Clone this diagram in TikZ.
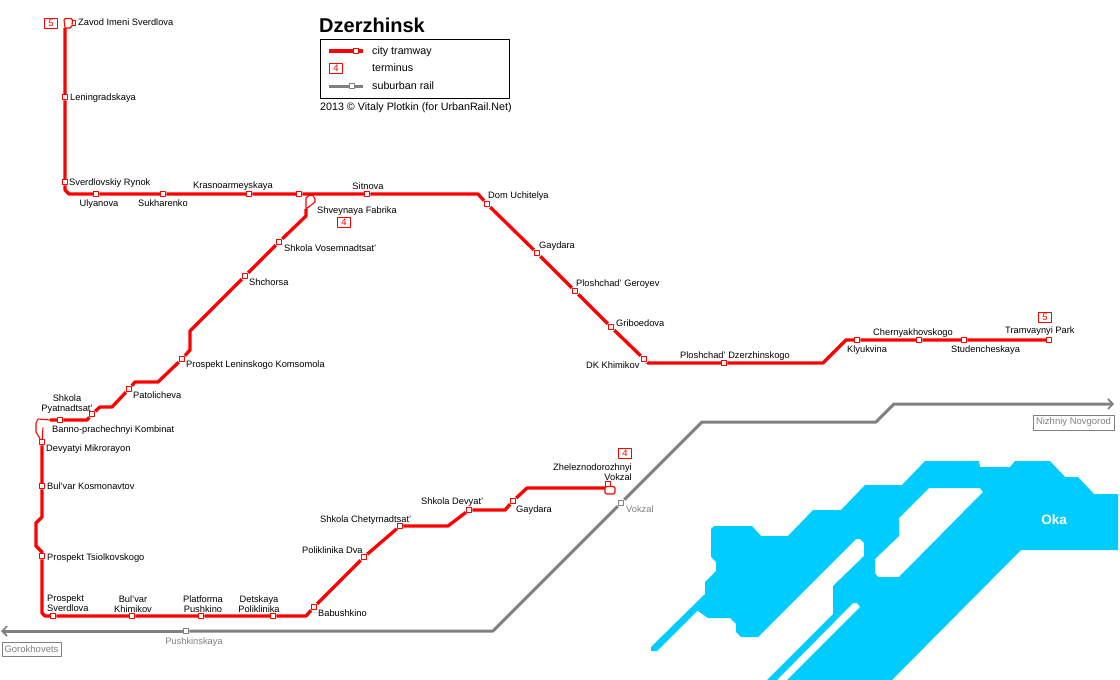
\documentclass[tikz,border=0pt]{standalone}
\usepackage{fontspec}
\setmainfont{Liberation Sans}
\usetikzlibrary{arrows.meta}
\definecolor{tramred}{HTML}{FF0000}
\definecolor{railgray}{HTML}{808080}
\definecolor{okablue}{HTML}{00CCFF}
\tikzset{
    stop/.style={draw=tramred, fill=white, line width=1pt, inner sep=0pt, minimum size=5.5pt},
    railstop/.style={draw=railgray, fill=white, line width=1pt, inner sep=0pt, minimum size=5.5pt},
    lab/.style={font=\fontsize{9.3}{10.3}\selectfont, inner sep=0pt, text height=8pt, text depth=1pt},
    lablr/.style={lab, anchor=west},
    labc/.style={font=\fontsize{9.3}{10.3}\selectfont, inner sep=0pt, align=center},
    legtext/.style={lablr, font=\fontsize{10.7}{11.7}\selectfont},
    railtext/.style={lab, text=railgray},
    terminus/.style={draw=tramred, text=tramred, line width=1pt, inner sep=0pt, minimum width=13pt, minimum height=10pt, font=\fontsize{9.5}{10}\selectfont},
    dirbox/.style={draw=railgray, text=railgray, line width=0.9pt, inner sep=0pt, font=\fontsize{9.5}{10.5}\selectfont},
    tram/.style={draw=tramred, line width=3.3pt},
    loopline/.style={draw=tramred, line width=1.1pt, fill=white},
    rail/.style={draw=railgray, line width=3pt},
    railend/.style={-{Straight Barb[length=5pt,width=10pt,line width=1.6pt]}}
}

\begin{document}
\begin{tikzpicture}[x=1pt, y=-1pt, >=stealth, line join=round]
    \useasboundingbox (0,0) rectangle (1120,680);

    % river Oka
    \fill[okablue, even odd rule] (651,647) -- (705,594) -- (705,582) -- (716,571) -- (716,562) -- (711,557) -- (711,529) -- (714,526) -- (752,526) -- (761,536) -- (788,536) -- (813,510) -- (841,510) -- (865,485) -- (902,485) -- (925,461) -- (979,461) -- (980,467) -- (1010,467) -- (1015,461) -- (1050,461) -- (1065,477) -- (1078,477) -- (1094,494) -- (1118,494) -- (1118,550) -- (1021,550) -- (892,680) -- (787,680) -- (860,607) -- (857,603) -- (853,603) -- (777,680) -- (767,680) -- (833,614) -- (833,586) -- (864,556) -- (864,543) -- (860,539) -- (856,539) -- (758,637) -- (741,637) -- (736,632) -- (736,624) -- (730,618) -- (708,618) -- (698,611) -- (697,611) -- (657,651) -- (651,651) -- cycle
        (929,488) -- (980,488) -- (983,492) -- (899,577) -- (878,577) -- (875,573) -- (875,559) -- (899,536) -- (899,518) -- cycle;
    \node[font=\bfseries\fontsize{13.5}{14}\selectfont, text=white, inner sep=0pt] (oka) at (1054,520) {Oka};

    % suburban rail
    \node[railstop] (pushkinskaya) at (186,631) {};
    \node[railstop] (vokzal) at (621,503) {};
    \coordinate (GorEnd) at (1,631);
    \coordinate (RailA) at (493,631);
    \coordinate (RailB) at (702,422);
    \coordinate (RailC) at (876,422);
    \coordinate (RailD) at (894,404);
    \coordinate (NizEnd) at (1114,404);
    \draw[rail, railend] (pushkinskaya) -- (GorEnd);
    \draw[rail] (pushkinskaya) -- (RailA) -- (vokzal);
    \draw[rail, railend] (vokzal) -- (RailB) -- (RailC) -- (RailD) -- (NizEnd);
    \node[railtext] (pushkinskayaT) at (194,641) {Pushkinskaya};
    \node[railtext, anchor=west] (vokzalT) at (626,509) {Vokzal};
    \node[dirbox, minimum width=59pt, minimum height=14pt] (gorokhovets) at (31.5,649) {Gorokhovets};
    \node[dirbox, minimum width=81pt, minimum height=15pt] (nizhniy) at (1073.5,422.5) {Nizhniy Novgorod};

    % stations of line 5
    \node[stop] (zavod) at (73,23) {};
    \node[stop] (leningradskaya) at (65,97) {};
    \node[stop] (rynok) at (65,182) {};
    \node[stop] (ulyanova) at (96,194) {};
    \node[stop] (sukharenko) at (163,194) {};
    \node[stop] (krasnoarm) at (249,194) {};
    \node[stop] (shveynayaTop) at (299,194) {};
    \node[stop] (sitnova) at (367,194) {};
    \node[stop] (uchitelya) at (487,204) {};
    \node[stop] (gaydaraN) at (537,253) {};
    \node[stop] (geroyev) at (575,291) {};
    \node[stop] (griboedova) at (611,327) {};
    \node[stop] (khimikov) at (644,359) {};
    \node[stop] (dzerzhinskogo) at (724,363) {};
    \node[stop] (klyukvina) at (857,340) {};
    \node[stop] (chernyakh) at (919,340) {};
    \node[stop] (studench) at (964,340) {};
    \node[stop] (tramPark) at (1049,340) {};

    % line 5
    \coordinate (ZavodLoop) at (65,28);
    \coordinate (CornerA) at (65,190);
    \coordinate (CornerB) at (69,194);
    \coordinate (CornerC) at (478,194);
    \coordinate (CornerD) at (648,363);
    \coordinate (CornerE) at (823,363);
    \coordinate (CornerF) at (846,340);
    \draw[loopline] (ZavodLoop) -- (64,20) -- (65.5,18.5) -- (71,18.5) -- (72.5,20) -- (72,26) -- (70,28) -- cycle;
    \draw[tram] (ZavodLoop) -- (leningradskaya) -- (rynok) -- (CornerA) -- (CornerB) -- (ulyanova) -- (sukharenko) -- (krasnoarm) -- (shveynayaTop) -- (sitnova) -- (CornerC) -- (uchitelya) -- (gaydaraN) -- (geroyev) -- (griboedova) -- (khimikov) -- (CornerD) -- (dzerzhinskogo) -- (CornerE) -- (CornerF) -- (klyukvina) -- (chernyakh) -- (studench) -- (tramPark);

    % stations of line 4
    \node[stop] (vosemnadtsat) at (279,242) {};
    \node[stop] (shchorsa) at (245,276) {};
    \node[stop] (komsomola) at (182,359) {};
    \node[stop] (patolicheva) at (129,389) {};
    \node[stop] (pyatnadtsat) at (92,414) {};
    \node[stop] (banno) at (60,420) {};
    \node[stop] (devyatyi) at (42,442) {};
    \node[stop] (kosmonavtov) at (42,486) {};
    \node[stop] (tsiolkovskogo) at (42,556) {};
    \node[stop] (sverdlova) at (53,616) {};
    \node[stop] (bulvarKh) at (132,616) {};
    \node[stop] (platforma) at (201,616) {};
    \node[stop] (detskaya) at (273,616) {};
    \node[stop] (babushkino) at (314,607) {};
    \node[stop] (polDva) at (364,557) {};
    \node[stop] (chetyrnadtsat) at (400,526) {};
    \node[stop] (devyat) at (469,510) {};
    \node[stop] (gaydaraS) at (513,501) {};
    \node[stop] (zhd) at (608,484) {};

    % line 4
    \coordinate (FabrikaEnd) at (306,209);
    \coordinate (FabrikaLow) at (306,216);
    \coordinate (BendA) at (190,331);
    \coordinate (BendB) at (190,350);
    \coordinate (BendC) at (158,382);
    \coordinate (BendD) at (135,382);
    \coordinate (BendE) at (112,407);
    \coordinate (BendF) at (100,407);
    \coordinate (BendG) at (87,420);
    \coordinate (BannoEnd) at (50,420);
    \coordinate (JogA) at (42,517);
    \coordinate (JogB) at (36,523);
    \coordinate (JogC) at (36,546);
    \coordinate (JogD) at (42,552);
    \coordinate (BottomA) at (42,613);
    \coordinate (BottomB) at (45,616);
    \coordinate (BottomC) at (306,616);
    \coordinate (EastA) at (448,526);
    \coordinate (EastB) at (505,510);
    \coordinate (EastC) at (527,488);
    \coordinate (EastD) at (605,488);
    \draw[loopline] (FabrikaEnd) -- (306,198) -- (309,195.5) -- (313,195.5) -- (315,199) -- (315,202) -- cycle;
    \draw[tram] (FabrikaEnd) -- (FabrikaLow) -- (vosemnadtsat) -- (shchorsa) -- (BendA) -- (BendB) -- (komsomola) -- (BendC) -- (BendD) -- (patolicheva) -- (BendE) -- (BendF) -- (pyatnadtsat) -- (BendG) -- (banno) -- (BannoEnd);
    \draw[loopline, fill=none] (BannoEnd) -- (38,419) -- (36,423) -- (36,432) -- (devyatyi) -- (43,428) -- cycle;
    \draw[tram] (devyatyi) -- (kosmonavtov) -- (JogA) -- (JogB) -- (JogC) -- (JogD) -- (tsiolkovskogo) -- (BottomA) -- (BottomB) -- (sverdlova) -- (bulvarKh) -- (platforma) -- (detskaya) -- (BottomC) -- (babushkino) -- (polDva) -- (chetyrnadtsat) -- (EastA) -- (devyat) -- (EastB) -- (gaydaraS) -- (EastC) -- (EastD);
    \draw[loopline, rounded corners=1.5pt] (605,486.5) rectangle (615,494);

    % station names, line 5
    \node[lablr] (zavodT) at (78,22) {Zavod Imeni Sverdlova};
    \node[lablr] (leningradskayaT) at (70,97) {Leningradskaya};
    \node[lablr] (rynokT) at (69,182) {Sverdlovskiy Rynok};
    \node[lab] (ulyanovaT) at (99,203) {Ulyanova};
    \node[lab] (sukharenkoT) at (163,203) {Sukharenko};
    \node[lab] (krasnoarmT) at (233,185) {Krasnoarmeyskaya};
    \node[lab] (sitnovaT) at (368,186) {Sitnova};
    \node[lablr] (uchitelyaT) at (488,195) {Dom Uchitelya};
    \node[lablr] (gaydaraNT) at (539,245) {Gaydara};
    \node[lablr] (geroyevT) at (576,283) {Ploshchad' Geroyev};
    \node[lablr] (griboedovaT) at (616,323) {Griboedova};
    \node[lablr] (khimikovT) at (586,365) {DK Khimikov};
    \node[lablr] (dzerzhinskogoT) at (680,355) {Ploshchad' Dzerzhinskogo};
    \node[lablr] (klyukvinaT) at (847,349) {Klyukvina};
    \node[lablr] (chernyakhT) at (873,332) {Chernyakhovskogo};
    \node[lablr] (studenchT) at (951,349) {Studencheskaya};
    \node[lablr] (tramParkT) at (1005,330) {Tramvaynyi Park};

    % station names, line 4
    \node[lablr] (fabrikaT) at (317,210) {Shveynaya Fabrika};
    \node[lablr] (vosemnadtsatT) at (284,248) {Shkola Vosemnadtsat'};
    \node[lablr] (shchorsaT) at (249,282) {Shchorsa};
    \node[lablr] (komsomolaT) at (186,364) {Prospekt Leninskogo Komsomola};
    \node[lablr] (patolichevaT) at (133,395) {Patolicheva};
    \node[labc] (pyatnadtsatT) at (67,404) {Shkola\\Pyatnadtsat'};
    \node[lablr] (bannoT) at (52,429) {Banno-prachechnyi Kombinat};
    \node[lablr] (devyatyiT) at (46,448) {Devyatyi Mikrorayon};
    \node[lablr] (kosmonavtovT) at (47,486) {Bul'var Kosmonavtov};
    \node[lablr] (tsiolkovskogoT) at (47,557) {Prospekt Tsiolkovskogo};
    \node[labc, align=left, anchor=west] (sverdlovaT) at (47,603) {Prospekt\\Sverdlova};
    \node[labc] (bulvarKhT) at (133,604) {Bul'var\\Khimikov};
    \node[labc] (platformaT) at (203,604) {Platforma\\Pushkino};
    \node[labc] (detskayaT) at (259,604) {Detskaya\\Poliklinika};
    \node[lablr] (babushkinoT) at (318,613) {Babushkino};
    \node[lablr] (polDvaT) at (302,550) {Poliklinika Dva};
    \node[lablr] (chetyrnadtsatT) at (320,519) {Shkola Chetyrnadtsat'};
    \node[lablr] (devyatT) at (421,501) {Shkola Devyat'};
    \node[lablr] (gaydaraST) at (516,509) {Gaydara};
    \node[labc, align=right, anchor=east] (zhdT) at (632,472) {Zheleznodorozhnyi\\Vokzal};

    % terminus numbers
    \node[terminus] (termZavod) at (51,23) {5};
    \node[terminus] (termFabrika) at (344,222) {4};
    \node[terminus] (termZhd) at (625,453) {4};
    \node[terminus] (termPark) at (1045,317) {5};

    % title and legend
    \node[font=\bfseries\fontsize{20}{22}\selectfont, anchor=west, inner sep=0pt] (title) at (319,25) {Dzerzhinsk};
    \draw[line width=1pt] (320.5,39.5) rectangle (509.5,98.5);
    \node[stop] (legTram) at (356,51) {};
    \node[railstop] (legRail) at (352,86) {};
    \coordinate (LegA) at (329,51);
    \coordinate (LegB) at (363,51);
    \coordinate (LegC) at (329,86);
    \coordinate (LegD) at (363,86);
    \draw[tram] (LegA) -- (legTram) -- (LegB);
    \draw[rail] (LegC) -- (legRail) -- (LegD);
    \node[terminus] (legTerm) at (336,68) {4};
    \node[legtext] (legTramT) at (372,51) {city tramway};
    \node[legtext] (legTermT) at (372,68) {terminus};
    \node[legtext] (legRailT) at (372,86) {suburban rail};
    \node[legtext] (credit) at (320,107) {2013 © Vitaly Plotkin (for UrbanRail.Net)};
\end{tikzpicture}
\end{document}
